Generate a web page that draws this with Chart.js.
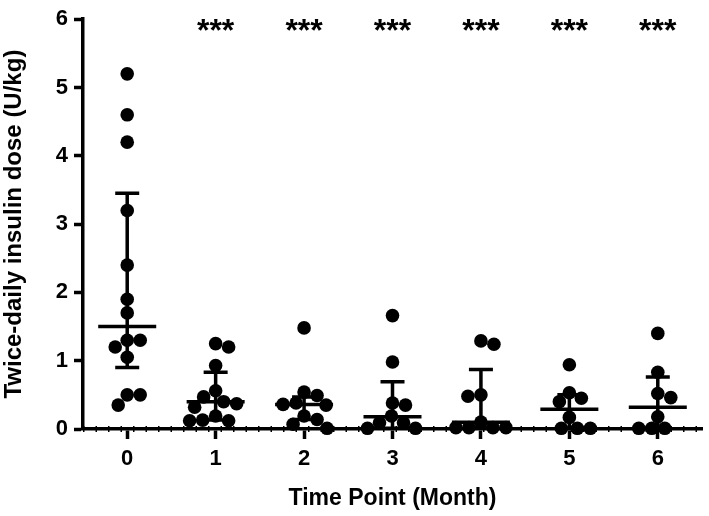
<!DOCTYPE html>
<html>
<head>
<meta charset="utf-8">
<script src="https://cdn.jsdelivr.net/npm/chart.js@4.4.0/dist/chart.umd.min.js"></script>
<style>
  html, body { margin: 0; padding: 0; background: #fff; }
</style>
</head>
<body>
<canvas id="doseChart" width="709" height="516"></canvas>
<script>
const months = ['0', '1', '2', '3', '4', '5', '6'];

// individual doses per time point (U/kg)
const month0 = [5.2, 4.6, 4.2, 3.2, 2.4, 1.9, 1.7, 1.3, 1.3, 1.2, 1.05, 0.5, 0.5, 0.35];
const month1 = [1.25, 1.2, 0.93, 0.56, 0.47, 0.4, 0.37, 0.32, 0.19, 0.13, 0.12, 0.12];
const month2 = [1.48, 0.54, 0.49, 0.38, 0.36, 0.35, 0.19, 0.14, 0.07, 0.01];
const month3 = [1.66, 0.98, 0.38, 0.35, 0.19, 0.09, 0.09, 0.01, 0.01];
const month4 = [1.29, 1.24, 0.5, 0.48, 0.1, 0.02, 0.02, 0.02, 0.02];
const month5 = [0.94, 0.53, 0.45, 0.4, 0.17, 0.01, 0.01, 0.01];
const month6 = [1.4, 0.83, 0.52, 0.46, 0.18, 0.01, 0.01, 0.01];

// median with interquartile range
const medians = [1.5, 0.4, 0.36, 0.18, 0.1, 0.29, 0.32];
const lowerQ = [0.9, 0.13, 0.14, 0.01, 0.02, 0.01, 0.01];
const upperQ = [3.45, 0.83, 0.47, 0.69, 0.87, 0.5, 0.76];

const stars = ['', '***', '***', '***', '***', '***', '***'];

const groups = [month0, month1, month2, month3, month4, month5, month6];
const FONT = "'Liberation Sans', Arial, sans-serif";

const points = [];
groups.forEach((vals, g) => vals.forEach(v => points.push({ x: g, y: v, g: g })));

// spread points sideways so they don't pile on top of each other
function swarm(chart) {
    const ys = chart.scales.y;
    const xs = chart.scales.x;
    const unit = (xs.right - xs.left) / months.length;
    const minDist = 13;
    groups.forEach((vals, g) => {
        const mine = points.filter(p => p.g === g).sort((a, b) => b.y - a.y);
        const placed = [];
        let flip = 1;
        mine.forEach(p => {
            const py = ys.getPixelForValue(p.y);
            let off = 0;
            for (let k = 0; k < 200; k++) {
                const tries = k === 0 ? [0] : [flip * k, -flip * k];
                let ok = null;
                for (const t of tries) {
                    if (placed.every(q => Math.hypot(q.x - t, q.y - py) >= minDist)) { ok = t; break; }
                }
                if (ok !== null) { off = ok; break; }
            }
            if (off !== 0) flip = -flip;
            placed.push({ x: off, y: py });
            p.x = g + off / unit;
        });
    });
}

const summaryPlugin = {
    id: 'summary',
    afterDatasetsDraw(chart) {
        const { ctx, scales: { x, y }, chartArea } = chart;
        ctx.save();
        ctx.strokeStyle = '#000';
        ctx.lineCap = 'butt';

        // dotted line at y = 0
        ctx.lineWidth = 6;
        ctx.setLineDash([1.5, 11]);
        ctx.beginPath();
        ctx.moveTo(chartArea.left, y.getPixelForValue(0));
        ctx.lineTo(chartArea.right, y.getPixelForValue(0));
        ctx.stroke();
        ctx.setLineDash([]);

        months.forEach((m, i) => {
            const cx = x.getPixelForValue(i);
            const top = y.getPixelForValue(upperQ[i]);
            const bot = y.getPixelForValue(lowerQ[i]);
            const mid = y.getPixelForValue(medians[i]);
            ctx.lineWidth = 3.5;
            ctx.beginPath();
            ctx.moveTo(cx, top); ctx.lineTo(cx, bot);
            ctx.moveTo(cx - 12, top); ctx.lineTo(cx + 12, top);
            ctx.moveTo(cx - 12, bot); ctx.lineTo(cx + 12, bot);
            ctx.moveTo(cx - 29, mid); ctx.lineTo(cx + 29, mid);
            ctx.stroke();

            if (stars[i]) {
                ctx.fillStyle = '#000';
                ctx.font = 'bold 32px ' + FONT;
                ctx.textAlign = 'center';
                ctx.textBaseline = 'alphabetic';
                ctx.fillText(stars[i], cx, 41);
            }
        });
        ctx.restore();
    }
};

const chart = new Chart(document.getElementById('doseChart'), {
    type: 'scatter',
    data: {
        datasets: [{
            data: points,
            backgroundColor: '#000',
            borderColor: '#000',
            borderWidth: 0,
            pointRadius: 6.8,
            pointHoverRadius: 6.8,
            clip: false
        }]
    },
    options: {
        responsive: false,
        animation: false,
        layout: { padding: { top: 16, right: 7, left: 0, bottom: 0 } },
        plugins: { legend: { display: false }, tooltip: { enabled: false } },
        scales: {
            x: {
                type: 'linear',
                min: -0.5,
                max: 6.5,
                afterBuildTicks: s => { s.ticks = months.map((m, i) => ({ value: i })); },
                afterFit: s => { s.height = 87; },
                grid: { drawOnChartArea: false, tickLength: 10, tickWidth: 3.5, tickColor: '#000' },
                border: { display: true, width: 3.5, color: '#000' },
                ticks: {
                    color: '#000',
                    padding: 7,
                    font: { family: FONT, size: 22, weight: 'bold' },
                    callback: v => months[Math.round(v)]
                },
                title: {
                    display: true,
                    text: 'Time Point (Month)',
                    color: '#000',
                    font: { family: FONT, size: 23, weight: 'bold' },
                    padding: { top: 0, bottom: 4 }
                }
            },
            y: {
                min: 0,
                max: 6,
                afterFit: s => { s.width = 83; },
                grid: { drawOnChartArea: false, tickLength: 9, tickWidth: 3.5, tickColor: '#000' },
                border: { display: true, width: 3.5, color: '#000' },
                ticks: {
                    stepSize: 1,
                    color: '#000',
                    padding: 6,
                    font: { family: FONT, size: 22, weight: 'bold' }
                },
                title: {
                    display: true,
                    text: 'Twice-daily insulin dose (U/kg)',
                    color: '#000',
                    font: { family: FONT, size: 24, weight: 'bold' },
                    padding: { top: 0, bottom: 0 }
                }
            }
        }
    },
    plugins: [summaryPlugin]
});

swarm(chart);
chart.update('none');
</script>
</body>
</html>
